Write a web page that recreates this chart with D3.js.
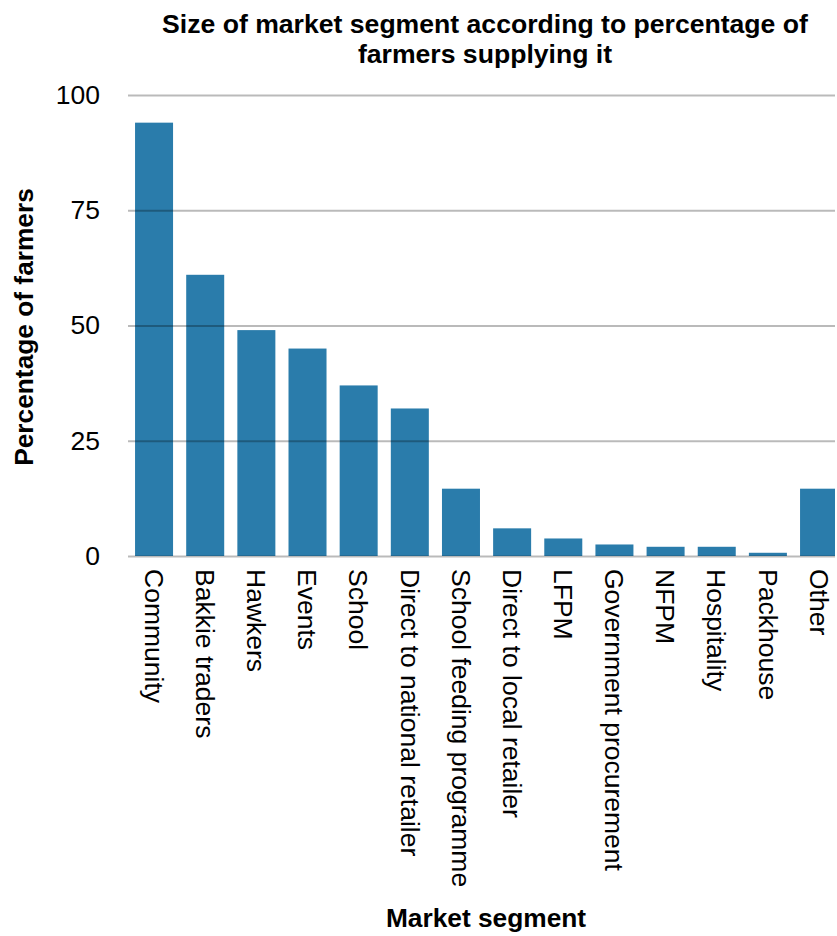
<!DOCTYPE html>
<html>
<head>
<meta charset="utf-8">
<script src="https://cdn.jsdelivr.net/npm/d3@7"></script>
<style>
  html, body { margin: 0; padding: 0; background: #fff; }
  svg { display: block; font-family: "Liberation Sans", Arial, Helvetica, sans-serif; }
</style>
</head>
<body>
<svg id="chart" width="837" height="936"></svg>
<script>
const categories = ["Community", "Bakkie traders", "Hawkers", "Events", "School",
  "Direct to national retailer", "School feeding programme", "Direct to local retailer",
  "LFPM", "Government procurement", "NFPM", "Hospitality", "Packhouse", "Other"];
const values = [94, 61, 49, 45, 37, 32, 14.6, 6, 3.8, 2.5, 2, 2, 0.7, 14.6];
const yTicks = [0, 25, 50, 75, 100];
const titleLines = ["Size of market segment according to percentage of", "farmers supplying it"];
const yTitle = "Percentage of farmers";
const xTitle = "Market segment";

const svg = d3.select("#chart");
const plotLeft = 128, plotRight = 835, plotTop = 95, plotBottom = 556;

const x = d3.scaleBand()
  .domain(categories)
  .range([128.5, 844.6])
  .paddingInner(0.257)
  .paddingOuter(0.128);

const y = d3.scaleLinear().domain([0, 100]).range([plotBottom, plotTop]);

svg.append("defs").append("clipPath").attr("id", "plotclip")
  .append("rect").attr("x", plotLeft).attr("y", 0).attr("width", plotRight - plotLeft).attr("height", plotBottom + 2);

const data = categories.map((c, i) => ({ c, v: values[i] }));

// bars
svg.append("g").attr("clip-path", "url(#plotclip)")
  .selectAll("rect").data(data).join("rect")
  .attr("x", d => x(d.c))
  .attr("width", x.bandwidth())
  .attr("y", d => y(d.v))
  .attr("height", d => y(0) - y(d.v))
  .attr("fill", "#2a7cab");

// gridlines (drawn on top, semi-transparent)
const yAxis = d3.axisLeft(y).tickValues(yTicks).tickSize(-(plotRight - plotLeft)).tickFormat(d3.format("d")).tickPadding(28);
const gy = svg.append("g").attr("transform", `translate(${plotLeft},0)`).call(yAxis);
gy.select(".domain").remove();
gy.selectAll(".tick line").attr("stroke", "#000").attr("stroke-opacity", 0.27).attr("stroke-width", 2);
gy.selectAll(".tick text").attr("font-size", 26.5).attr("fill", "#000")
  .attr("font-family", "\"Liberation Sans\", Arial, Helvetica, sans-serif");

// x labels
const xAxis = d3.axisBottom(x).tickSize(0).tickPadding(0);
const gx = svg.append("g").attr("transform", `translate(0,${plotBottom})`).call(xAxis);
gx.select(".domain").remove();
gx.selectAll(".tick text")
  .attr("font-size", 26.5).attr("fill", "#000")
  .attr("font-family", "\"Liberation Sans\", Arial, Helvetica, sans-serif")
  .attr("text-anchor", "start")
  .attr("transform", "rotate(90)")
  .attr("x", 13).attr("y", 0).attr("dy", "0.35em");

// title
svg.append("text").attr("x", 485).attr("y", 33)
  .attr("text-anchor", "middle").attr("font-weight", "bold").attr("font-size", 26.6)
  .selectAll("tspan").data(titleLines).join("tspan")
  .attr("x", 485).attr("dy", (d, i) => i === 0 ? 0 : 30).text(d => d);

// y title
svg.append("text")
  .attr("transform", `translate(33,327) rotate(-90)`)
  .attr("text-anchor", "middle").attr("font-weight", "bold").attr("font-size", 26.3)
  .text(yTitle);

// x title
svg.append("text").attr("x", 486).attr("y", 927)
  .attr("text-anchor", "middle").attr("font-weight", "bold").attr("font-size", 26.3)
  .text(xTitle);
</script>
</body>
</html>
